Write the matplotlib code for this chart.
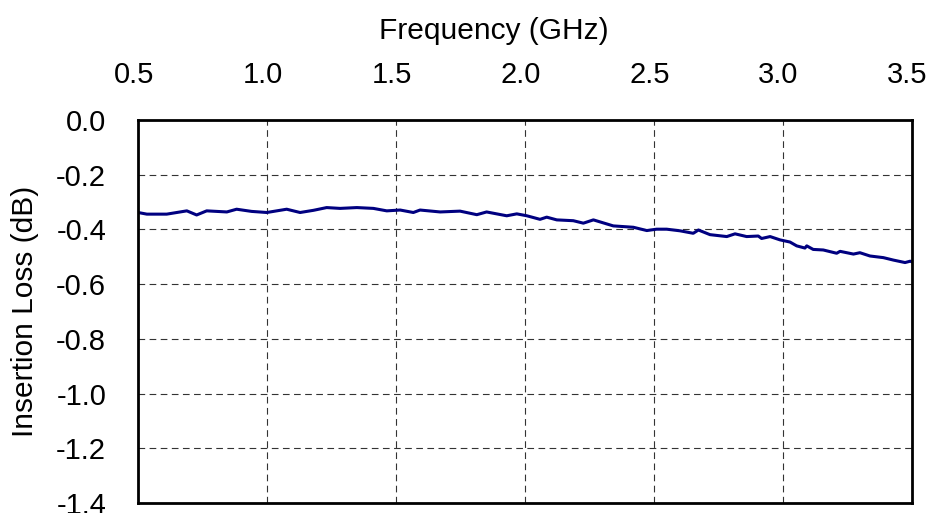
import matplotlib
matplotlib.use('Agg')
import matplotlib.pyplot as plt
import matplotlib.transforms as mtransforms
from matplotlib.ticker import FormatStrFormatter

freq = [0.50, 0.534, 0.611, 0.689, 0.727, 0.766, 0.844, 0.882, 0.94, 0.999,
        1.076, 1.128, 1.18, 1.231, 1.283, 1.348, 1.412, 1.464, 1.516, 1.567,
        1.593, 1.671, 1.748, 1.813, 1.851, 1.929, 1.968, 2.007, 2.058, 2.084,
        2.123, 2.187, 2.226, 2.265, 2.342, 2.420, 2.472, 2.510, 2.549, 2.601,
        2.652, 2.672, 2.717, 2.782, 2.814, 2.859, 2.904, 2.917, 2.950, 2.988,
        3.027, 3.053, 3.085, 3.092, 3.117, 3.156, 3.208, 3.221, 3.273, 3.298,
        3.337, 3.389, 3.428, 3.473, 3.493, 3.505]
loss = [-0.338, -0.344, -0.344, -0.332, -0.347, -0.332, -0.336, -0.326, -0.334, -0.338,
        -0.326, -0.338, -0.330, -0.320, -0.323, -0.320, -0.323, -0.332, -0.329, -0.338,
        -0.329, -0.336, -0.333, -0.346, -0.336, -0.350, -0.343, -0.350, -0.363, -0.355,
        -0.365, -0.368, -0.377, -0.365, -0.387, -0.392, -0.404, -0.399, -0.399, -0.405,
        -0.414, -0.402, -0.419, -0.426, -0.416, -0.426, -0.424, -0.433, -0.426, -0.438,
        -0.446, -0.460, -0.468, -0.460, -0.473, -0.475, -0.487, -0.480, -0.490, -0.485,
        -0.497, -0.503, -0.512, -0.521, -0.516, -0.520]

xticks = [0.5, 1.0, 1.5, 2.0, 2.5, 3.0, 3.5]
yticks = [0.0, -0.2, -0.4, -0.6, -0.8, -1.0, -1.2, -1.4]

plt.rcParams['font.family'] = ['Liberation Sans', 'DejaVu Sans']
plt.rcParams['axes.unicode_minus'] = False

fig = plt.figure(figsize=(9.33, 5.13), dpi=100)
ax = fig.add_axes([0.148, 0.0195, 0.8295, 0.7465])

ax.plot(freq, loss, color='#000080', linewidth=2.2)

ax.set_xlim(0.5, 3.5)
ax.set_ylim(-1.4, 0.0)
ax.set_xticks(xticks)
ax.set_yticks(yticks)
ax.xaxis.set_major_formatter(FormatStrFormatter('%.1f'))
ax.yaxis.set_major_formatter(FormatStrFormatter('%.1f'))
ax.xaxis.tick_top()
ax.xaxis.set_label_position('top')
ax.tick_params(axis='both', length=0, labelsize=21)
ax.tick_params(axis='x', pad=22)
ax.tick_params(axis='y', pad=23)

# Beschriftungen leicht nach links versetzt wie im Original
versatz = mtransforms.ScaledTranslation(-4.5 / 100, 0, fig.dpi_scale_trans)
for lab in ax.get_xticklabels():
    lab.set_transform(lab.get_transform() + versatz)

ax.set_xlabel('Frequency (GHz)', fontsize=21.5, labelpad=16)
ax.xaxis.label.set_x(0.459)
ax.set_ylabel('Insertion Loss (dB)', fontsize=21.5, labelpad=12)

ax.grid(True, color='#333333', linestyle=(0, (6, 4)), linewidth=0.8)
for s in ax.spines.values():
    s.set_linewidth(2.0)

fig.savefig('out.png', dpi=100)
